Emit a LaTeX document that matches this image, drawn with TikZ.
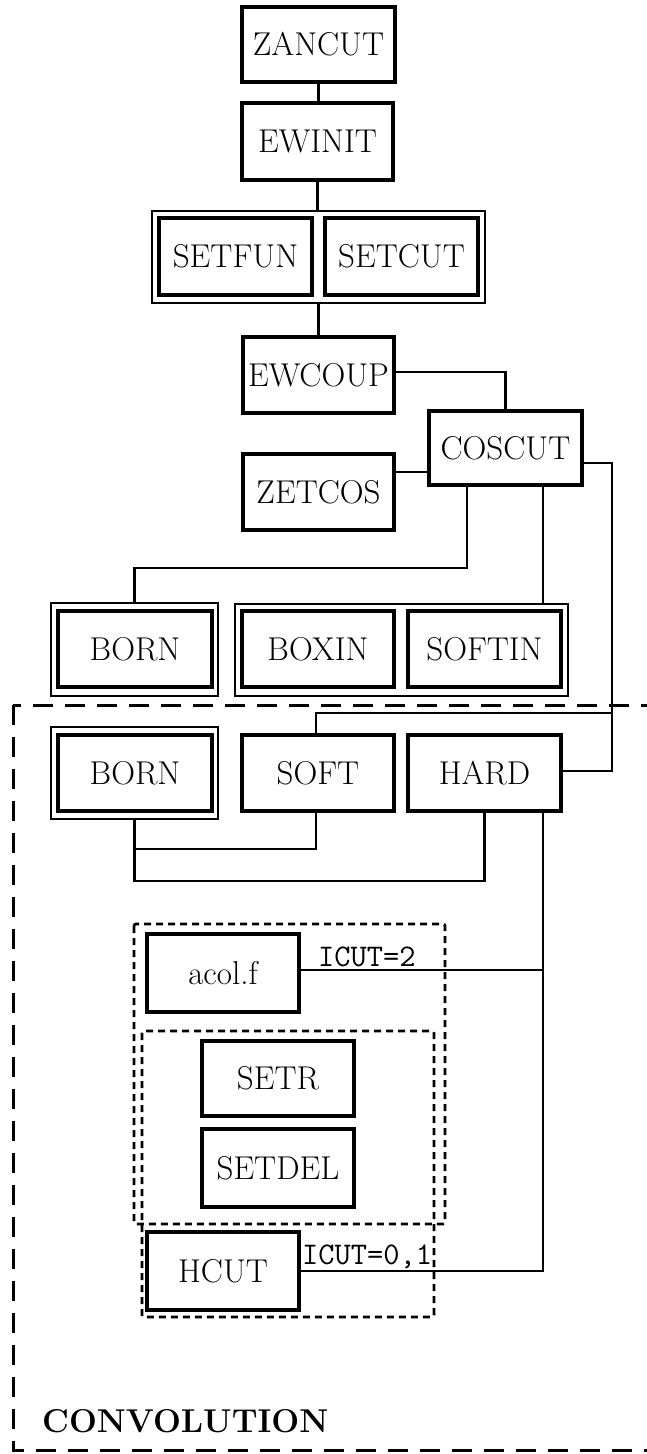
\documentclass[tikz,border=0pt]{standalone}
\usepackage{fontspec}
\newcommand{\dgfont}{\fontsize{33}{39}\selectfont}
\newcommand{\dgttfont}{\fontsize{31.5}{37}\selectfont\ttfamily}
\begin{document}
\begin{tikzpicture}[x=1pt,y=-1pt,
  box/.style={draw, line width=4pt, rectangle, inner sep=0pt, font=\dgfont},
  grp/.style={draw, line width=2pt, rectangle, inner sep=0pt},
  conn/.style={line width=2.6pt},
  lbl/.style={inner sep=0pt, font=\dgttfont},
  bigdash/.style={line width=3pt, dash pattern=on 20pt off 12pt},
  smalldash/.style={line width=2.8pt, dash pattern=on 7pt off 5pt, rounded corners=2pt}
]
\clip (0,0) rectangle (647,1454);
\useasboundingbox (0,0) rectangle (647,1454);

% top chain
\node[box, minimum width=153pt, minimum height=75pt] (zancut) at (318.5,44.5) {ZANCUT};
\node[box, minimum width=151pt, minimum height=77pt] (ewinit) at (317.5,141.5) {EWINIT};
\node[grp, minimum width=333pt, minimum height=92pt] (g1) at (318.5,257) {};
\node[box, minimum width=153pt, minimum height=77pt] (setfun) at (235.5,256.5) {SETFUN};
\node[box, minimum width=153pt, minimum height=77pt] (setcut) at (401.5,256.5) {SETCUT};
\node[box, minimum width=151pt, minimum height=76pt] (ewcoup) at (318.5,375) {EWCOUP};
\node[box, minimum width=153pt, minimum height=74pt] (coscut) at (505.5,448) {COSCUT};
\node[box, minimum width=151pt, minimum height=76pt] (zetcos) at (318.5,492) {ZETCOS};

% row of BORN / BOXIN / SOFTIN
\node[grp, minimum width=167pt, minimum height=93pt] (born1o) at (134.5,649.5) {};
\node[box, minimum width=154pt, minimum height=76pt] (born1) at (135,649) {BORN};
\node[grp, minimum width=333pt, minimum height=92pt] (g2) at (401.5,650) {};
\node[box, minimum width=152pt, minimum height=76pt] (boxin) at (318,649) {BOXIN};
\node[box, minimum width=153pt, minimum height=76pt] (softin) at (484.5,649) {SOFTIN};

% convolution row
\node[grp, minimum width=167pt, minimum height=92pt] (born2o) at (134.5,773) {};
\node[box, minimum width=154pt, minimum height=76pt] (born2) at (135,773) {BORN};
\node[box, minimum width=152pt, minimum height=76pt] (soft) at (318,773) {SOFT};
\node[box, minimum width=153pt, minimum height=76pt] (hard) at (484.5,773) {HARD};

% lower group
\node[box, minimum width=152pt, minimum height=78pt] (acol) at (223,973) {acol.f};
\node[box, minimum width=152pt, minimum height=75pt] (setr) at (278,1078.5) {SETR};
\node[box, minimum width=152pt, minimum height=78pt] (setdel) at (278,1168) {SETDEL};
\node[box, minimum width=152pt, minimum height=78pt] (hcut) at (223,1271) {HCUT};

% dashed frames
\draw[bigdash] (13,705) rectangle (680,1450);
\draw[smalldash] (134,924) rectangle (445,1224);
\draw[smalldash] (142,1031) rectangle (434,1317);

% connectors
\draw[conn] (zancut.south) -- (zancut.south |- ewinit.north);
\draw[conn] (ewinit.south) -- (ewinit.south |- g1.north);
\draw[conn] (g1.south) -- (g1.south |- ewcoup.north);
\draw[conn] ([yshift=3pt]ewcoup.east) -| (coscut.north);
\draw[conn] ([yshift=20pt]zetcos.east) -- ([yshift=20pt]zetcos.east -| coscut.west);
\draw[conn] ([xshift=-38.5pt]coscut.south) |- ([yshift=34pt]born1o.north) -- (born1o.north);
\draw[conn] ([xshift=37.5pt]coscut.south) -- ([xshift=37.5pt]coscut.south |- g2.north);
\draw[conn] ([yshift=-15pt]coscut.east) -| ([xshift=49pt,yshift=2pt]hard.east) -- ([yshift=2pt]hard.east);
\draw[conn] ([xshift=-2pt]soft.north) |- ([xshift=49pt,yshift=60pt]hard.east);
\draw[conn] ([xshift=-2pt]soft.south) |- ([yshift=-29pt]born2o.south);
\draw[conn] (born2o.south) |- ([yshift=-68pt]hard.south) -- (hard.south);
\draw[conn] ([xshift=58.5pt]hard.south) |- (hcut.east);
\draw[conn] ([yshift=3pt]acol.east) -- ([xshift=58.5pt,yshift=3pt]hard.south |- acol.east);

% labels
\node[lbl, anchor=base west] (icut2) at (318,966) {ICUT=2};
\node[lbl, anchor=base west] (icut01) at (302,1264) {ICUT=0,1};
\node[inner sep=0pt, anchor=base west, font=\dgfont\bfseries] (conv) at (42,1432) {CONVOLUTION};
\end{tikzpicture}
\end{document}
